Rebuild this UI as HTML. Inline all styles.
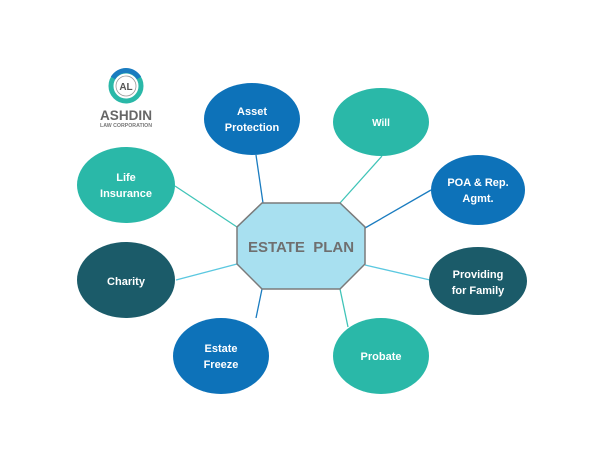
<!DOCTYPE html>
<html><head><style>
body{margin:0;background:#fff;}
svg{display:block;}
text{font-family:"Liberation Sans",sans-serif;font-weight:bold;}
</style></head><body>
<svg width="600" height="464" viewBox="0 0 600 464">
<g stroke-width="1.3">
<line x1="256" y1="155" x2="263" y2="203" stroke="#1a7cc0"/>
<line x1="382" y1="156" x2="340" y2="203" stroke="#40c4b8"/>
<line x1="175" y1="186" x2="237" y2="227" stroke="#40c4b8"/>
<line x1="176" y1="280" x2="237" y2="264" stroke="#5bc8e0"/>
<line x1="256" y1="318" x2="262" y2="289" stroke="#1a7cc0"/>
<line x1="348" y1="327" x2="340" y2="289" stroke="#40c4b8"/>
<line x1="431" y1="190" x2="365" y2="228" stroke="#1a7cc0"/>
<line x1="430" y1="280" x2="365" y2="265" stroke="#5bc8e0"/>
</g>
<polygon points="262,203 340,203 365,227 365,264 340,289 262,289 237,264 237,227" fill="#a8e0f0" stroke="#7a7a7a" stroke-width="1.5"/>
<text x="301" y="252" text-anchor="middle" font-size="15" fill="#6f6f6f">ESTATE&#160; PLAN</text>
<g font-size="11" fill="#fff" text-anchor="middle">
<ellipse cx="252" cy="119" rx="48" ry="36" fill="#0d72b9"/>
<text x="252" y="115">Asset</text><text x="252" y="131">Protection</text>
<ellipse cx="381" cy="122" rx="48" ry="34" fill="#2ab8a8"/>
<text x="381" y="126" font-size="10">Will</text>
<ellipse cx="478" cy="190" rx="47" ry="35" fill="#0d72b9"/>
<text x="478" y="186">POA &amp; Rep.</text><text x="478" y="202">Agmt.</text>
<ellipse cx="478" cy="281" rx="49" ry="34" fill="#1b5b69"/>
<text x="478" y="278">Providing</text><text x="478" y="294">for Family</text>
<ellipse cx="381" cy="356" rx="48" ry="38" fill="#2ab8a8"/>
<text x="381" y="360">Probate</text>
<ellipse cx="221" cy="356" rx="48" ry="38" fill="#0d72b9"/>
<text x="221" y="352">Estate</text><text x="221" y="368">Freeze</text>
<ellipse cx="126" cy="280" rx="49" ry="38" fill="#1b5b69"/>
<text x="126" y="285">Charity</text>
<ellipse cx="126" cy="185" rx="49" ry="38" fill="#2ab8a8"/>
<text x="126" y="181">Life</text><text x="126" y="197">Insurance</text>
</g>
<g>
<circle cx="126" cy="86" r="15" fill="none" stroke="#2ab8a8" stroke-width="5"/>
<path d="M113,78 A15,15 0 0 1 139,78" fill="none" stroke="#1a7cc0" stroke-width="5"/>
<circle cx="126" cy="86" r="10" fill="#fff" stroke="#999" stroke-width="0.8"/>
<text x="126" y="90" text-anchor="middle" font-size="10" fill="#555" font-family="Liberation Serif,serif">AL</text>
<text x="126" y="120" text-anchor="middle" font-size="14" fill="#666" textLength="52" lengthAdjust="spacingAndGlyphs">ASHDIN</text>
<text x="126" y="127" text-anchor="middle" font-size="5" fill="#777" textLength="52" lengthAdjust="spacingAndGlyphs">LAW CORPORATION</text>
</g>
</svg>
</body></html>
